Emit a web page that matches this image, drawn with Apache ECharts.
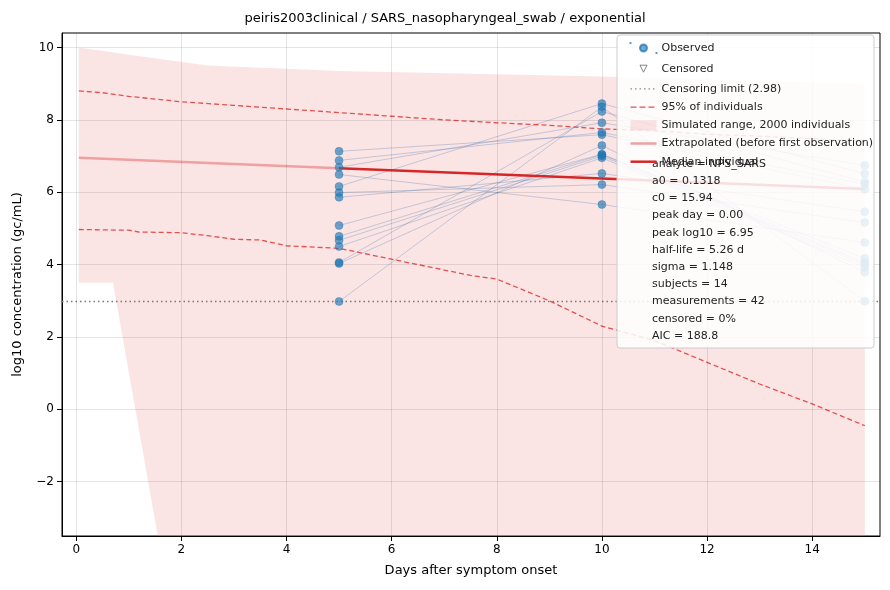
<!DOCTYPE html>
<html><head><meta charset="utf-8">
<script src="https://cdn.jsdelivr.net/npm/echarts@6/dist/echarts.min.js"></script>
<style>html,body{margin:0;padding:0;background:#fff}#c{width:890px;height:590px}</style>
</head><body><div id="c"></div>
<script>
const days = [5, 10, 15];
const subjects = [
  [7.13, 7.59, 6.08], [6.88, 7.65, 6.22], [6.69, 7.92, 6.74], [6.49, 5.66, 4.61],
  [6.16, 8.45, 6.51], [5.99, 6.21, 5.16], [5.86, 6.52, 5.46], [5.08, 7.05, 4.17],
  [4.78, 7.04, 4.06], [4.67, 7.00, 4.00], [4.50, 6.95, 3.92], [4.06, 8.23, 6.28],
  [4.03, 7.29, 3.79], [2.98, 8.36, 2.99]
];
const censorLimit = 2.98;
const medianDays = [5, 10, 15];
const medianVals = [6.66, 6.38, 6.09];
const extrapDays = [0.05, 5];
const extrapVals = [6.95, 6.66];
const upperDays = [0.05, 0.5, 1, 2, 3, 4, 5, 6, 7, 8, 9, 10, 11, 12, 13, 14, 15];
const upperVals = [8.8, 8.75, 8.65, 8.5, 8.4, 8.3, 8.2, 8.1, 8.0, 7.92, 7.85, 7.75, 7.7, 7.6, 7.55, 7.48, 7.4];
const lowerDays = [0.05, 1, 1.2, 2, 2.5, 3, 3.5, 4, 5, 5.5, 6, 6.5, 7, 7.5, 8, 8.5, 9, 9.5, 10, 11, 12, 13, 14, 15];
const lowerVals = [4.97, 4.95, 4.9, 4.88, 4.8, 4.7, 4.68, 4.52, 4.45, 4.3, 4.15, 4.0, 3.85, 3.7, 3.6, 3.3, 3.0, 2.65, 2.3, 1.9, 1.3, 0.7, 0.15, -0.45];
const bandTopDays = [0.05, 1, 2.5, 5, 10, 15];
const bandTopVals = [10.0, 9.8, 9.5, 9.35, 9.2, 9.0];
const bandBotDays = [0.05, 0.7, 1.6, 15];
const bandBotVals = [3.5, 3.5, -3.9, -3.9];
const stats = ['analyte = NPS_SARS','a0 = 0.1318','c0 = 15.94','peak day = 0.00','peak log10 = 6.95','half-life = 5.26 d','sigma = 1.148','subjects = 14','measurements = 42','censored = 0%','AIC = 188.8'];

const zip = (a, b) => a.map((v, i) => [v, b[i]]);
const bandPoly = zip(bandTopDays, bandTopVals).concat(zip(bandBotDays, bandBotVals).reverse());
const obs = [];
subjects.forEach(s => s.forEach((v, i) => obs.push([days[i], v])));

const series = [];
series.push({
  name: 'Simulated range, 2000 individuals', type: 'custom', z: 1, clip: true,
  itemStyle: {color: 'rgba(235,130,130,0.22)'},
  data: [0],
  renderItem: (p, api) => ({
    type: 'polygon',
    shape: {points: bandPoly.map(d => api.coord(d))},
    style: {fill: 'rgba(235,130,130,0.22)'}
  })
});
subjects.forEach((s, i) => series.push({
  type: 'line', data: zip(days, s), symbol: 'none', silent: true, z: 2,
  lineStyle: {color: 'rgba(70,120,180,0.3)', width: 1}
}));
series.push({name: '95% of individuals', type: 'line', data: zip(upperDays, upperVals), symbol: 'none', z: 3,
  itemStyle: {color: '#e45050'}, lineStyle: {color: '#e45050', width: 1.3, type: [5, 3]}});
series.push({name: '95% of individuals', type: 'line', data: zip(lowerDays, lowerVals), symbol: 'none', z: 3,
  itemStyle: {color: '#e45050'}, lineStyle: {color: '#e45050', width: 1.3, type: [5, 3]}});
series.push({name: 'Extrapolated (before first observation)', type: 'line', data: zip(extrapDays, extrapVals), symbol: 'none', z: 3,
  itemStyle: {color: '#f0a0a0'}, lineStyle: {color: '#f0a0a0', width: 2.5}});
series.push({name: 'Median individual', type: 'line', data: zip(medianDays, medianVals), symbol: 'none', z: 4,
  itemStyle: {color: '#d62728'}, lineStyle: {color: '#d62728', width: 2.5}});
series.push({name: 'Observed', type: 'scatter', data: obs, symbolSize: 8, z: 5,
  itemStyle: {color: 'rgba(31,119,180,0.8)', borderColor: 'rgba(31,119,180,0.9)', borderWidth: 0.5}});
series.push({name: 'Censored', type: 'scatter', data: [], symbol: 'triangle',
  itemStyle: {color: 'none', borderColor: '#666', borderWidth: 1}});
series.push({name: 'Censoring limit (2.98)', type: 'line', data: [], symbol: 'none',
  itemStyle: {color: '#777'}, lineStyle: {color: '#777', type: [1.5, 3], width: 1.3},
  markLine: {symbol: 'none', silent: true, label: {show: false},
    lineStyle: {color: '#777', type: [1.5, 3], width: 1.3}, data: [{yAxis: censorLimit}]}});

const lx = 617, ly = 35, lh = 17.2;
const graphics = [{type: 'rect', z: 90, shape: {x: lx, y: ly, width: 257, height: 313, r: 3},
  style: {fill: 'rgba(255,255,255,0.85)', stroke: '#ccc', lineWidth: 1}}];
stats.forEach((t, i) => graphics.push({type: 'text', z: 100, left: lx + 35, top: ly + 3 + (7 + i) * lh,
  style: {text: t, fontSize: 11, fill: '#222', fontFamily: 'DejaVu Sans'}}));

const solidIcon = 'path://M0,4L26,4L26,6.5L0,6.5Z';
const thinIcon = 'path://M0,4.4L26,4.4L26,5.6L0,5.6Z';
const dashIcon = 'path://M0,4.4h6v1.3h-6zM9,4.4h6v1.3h-6zM18,4.4h6v1.3h-6zM0,0h0.01v0.01h-0.01zM26,10h0.01v0.01h-0.01z';
const dotIcon = 'path://M0,4.4h1.5v1.3h-1.5zM4.5,4.4h1.5v1.3h-1.5zM9,4.4h1.5v1.3h-1.5zM13.5,4.4h1.5v1.3h-1.5zM18,4.4h1.5v1.3h-1.5zM22.5,4.4h1.5v1.3h-1.5zM0,0h0.01v0.01h-0.01zM26,10h0.01v0.01h-0.01z';
const circleIcon = 'path://M13,1.5A3.5,3.5 0 1 1 12.99,1.5ZM0,0h0.01v0.01h-0.01zM26,10h0.01v0.01h-0.01z';
const triIcon = 'path://M9.5,1.5L16.5,1.5L13,8.5ZM0,0h0.01v0.01h-0.01zM26,10h0.01v0.01h-0.01z';

const chart = echarts.init(document.getElementById('c'));
chart.setOption({
  animation: false,
  textStyle: {fontFamily: 'DejaVu Sans'},
  title: {text: 'peiris2003clinical / SARS_nasopharyngeal_swab / exponential', left: 'center', top: 7,
    textStyle: {fontSize: 13, fontWeight: 'normal', color: '#000'}},
  grid: {left: 62, right: 10, top: 33, bottom: 54, show: true, borderColor: '#000', borderWidth: 1, backgroundColor: 'transparent'},
  xAxis: {type: 'value', min: -0.27, max: 15.29, interval: 2, name: 'Days after symptom onset',
    nameLocation: 'middle', nameGap: 28, nameTextStyle: {fontSize: 13, color: '#000'},
    axisLabel: {color: '#000', fontSize: 12, customValues: [0, 2, 4, 6, 8, 10, 12, 14]},
    axisTick: {customValues: [0, 2, 4, 6, 8, 10, 12, 14], lineStyle: {color: '#000'}},
    axisLine: {onZero: false, lineStyle: {color: '#000'}},
    splitLine: {show: false}},
  yAxis: {type: 'value', min: -3.5, max: 10.4, name: 'log10 concentration (gc/mL)',
    nameLocation: 'middle', nameGap: 38, nameTextStyle: {fontSize: 13, color: '#000'},
    axisLabel: {color: '#000', fontSize: 12, customValues: [-2, 0, 2, 4, 6, 8, 10], formatter: v => String(v).replace('-', '\u2212')},
    axisTick: {show: true, customValues: [-2, 0, 2, 4, 6, 8, 10], lineStyle: {color: '#000'}},
    axisLine: {show: true, onZero: false, lineStyle: {color: '#000'}},
    splitLine: {show: false}},
  legend: {orient: 'vertical', left: lx + 6, top: ly + 2, itemGap: 7.2, itemWidth: 26, itemHeight: 10, z: 110,
    textStyle: {fontSize: 11, color: '#222'},
    data: [
      {name: 'Observed', icon: circleIcon, itemStyle: {color: 'rgba(31,119,180,0.8)'}},
      {name: 'Censored', icon: triIcon, itemStyle: {color: 'none', borderColor: '#666', borderWidth: 1}},
      {name: 'Censoring limit (2.98)', icon: dotIcon, itemStyle: {color: '#888'}},
      {name: '95% of individuals', icon: dashIcon, itemStyle: {color: '#e45050'}},
      {name: 'Simulated range, 2000 individuals', icon: 'rect', itemStyle: {color: 'rgba(235,130,130,0.22)'}},
      {name: 'Extrapolated (before first observation)', icon: solidIcon, itemStyle: {color: '#f0a0a0'}},
      {name: 'Median individual', icon: solidIcon, itemStyle: {color: '#d62728'}}
    ]},
  graphic: graphics,
  series: series.concat([
    {type: 'line', data: [], z: 0, markLine: {symbol: 'none', silent: true, label: {show: false},
      lineStyle: {color: 'rgba(0,0,0,0.1)', type: 'solid', width: 1},
      data: [0,2,4,6,8,10,12,14].map(v => ({xAxis: v})).concat([-2,0,2,4,6,8,10].map(v => ({yAxis: v})))}}
  ])
});
</script></body></html>
